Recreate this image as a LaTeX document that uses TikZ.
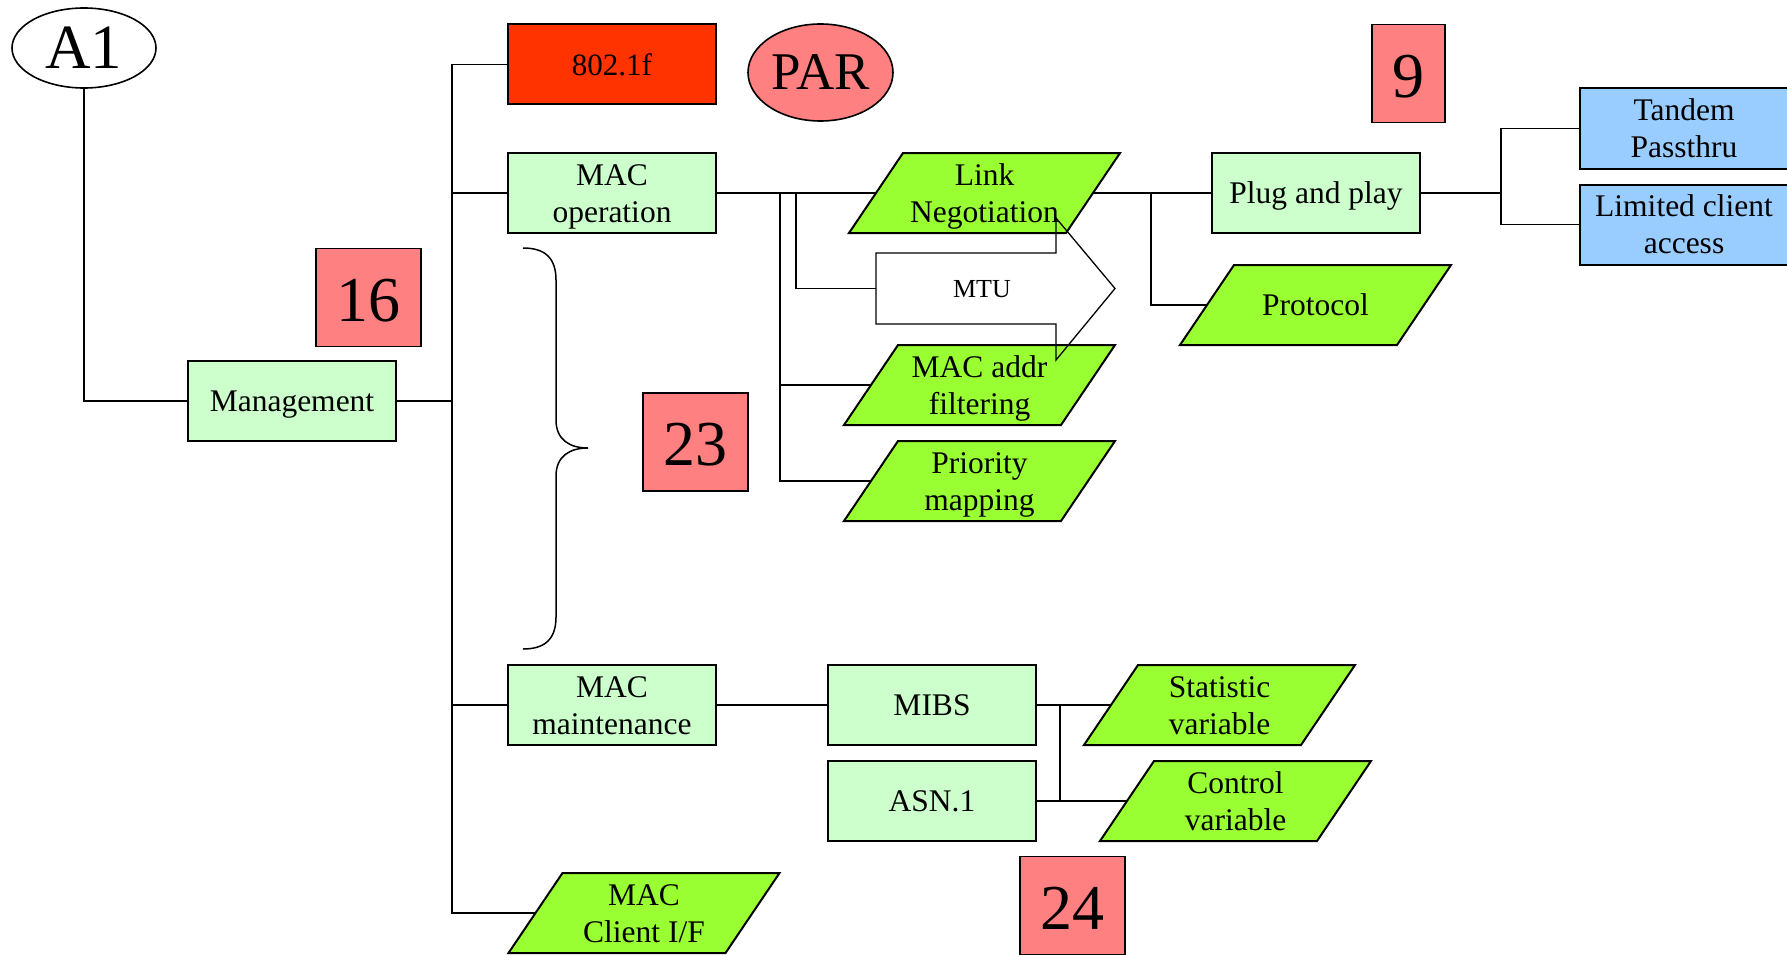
\documentclass[tikz,border=0pt]{standalone}
\usepackage{fontspec}
\setmainfont{Liberation Serif}
\usetikzlibrary{shapes.geometric}
\definecolor{lgreen}{HTML}{CCFFCC}
\definecolor{pgreen}{HTML}{99FF33}
\definecolor{redbox}{HTML}{FF3300}
\definecolor{salmon}{HTML}{FF8080}
\definecolor{lblue}{HTML}{99CCFF}

% full line strut for the 31.5pt labels: font ascent and descent
\newcommand\linestrut{\rule[-6.8pt]{0pt}{34.87pt}}
% same for the smaller 26pt label
\newcommand\smallstrut{\rule[-5.6pt]{0pt}{28.8pt}}
% headroom for the large numbers
\newcommand\numstrut{\rule{0pt}{48.3pt}}
% two centred lines, each on a full-height line box
\newcommand\twolines[2]{\vbox{\baselineskip=37pt\lineskiplimit=0pt
  \halign{\hfil##\hfil\cr\linestrut#1\cr\linestrut#2\cr}}}

% slanted (parallelogram) item: name, centre x, centre y, text
\newcommand\slantbox[4]{%
  \filldraw[slantfill] (#2-81.5,#3-40) -- (#2+135.5,#3-40) -- (#2+81.5,#3+40) -- (#2-135.5,#3+40) -- cycle;
  \node[slanttext] (#1) at (#2,#3) {#4};}

\begin{document}
\begin{tikzpicture}[x=1pt,y=-1pt,
  every node/.style={inner sep=0pt},
  txt/.style={font=\fontsize{31.5}{37}\selectfont,
              execute at end node=\linestrut},
  box/.style={txt, draw, line width=2pt, minimum width=208, minimum height=80},
  greenbox/.style={box, fill=lgreen},
  bluebox/.style={box, fill=lblue},
  numbox/.style={draw, line width=1.5pt, fill=salmon, font=\fontsize{64}{64}\selectfont,
                 minimum height=98, execute at end node=\numstrut},
  slanttext/.style={txt, minimum width=217, minimum height=80},
  slantfill/.style={fill=pgreen, draw, line width=2pt, line join=miter},
  wire/.style={line width=1.6pt},
]
\useasboundingbox (0,0) rectangle (1787,955);

% rectangular items
\node[draw, ellipse, line width=1.6pt, fill=white, minimum width=144, minimum height=80,
      font=\fontsize{63}{63}\selectfont] (a1) at (84,48) {A1};
\node[greenbox] (mgmt) at (292,401) {Management};
\node[box, fill=redbox, font=\fontsize{31}{37}\selectfont] (f8021) at (612,64.5) {802.1f};
\node[draw, ellipse, line width=1.6pt, fill=salmon, minimum width=145, minimum height=97,
      font=\fontsize{53}{53}\selectfont] (par) at (820.5,72.5) {PAR};
\node[greenbox] (macop) at (612,193) {\twolines{MAC}{operation}};
\node[numbox, minimum width=105] (n16) at (368.5,297.5) {16};
\node[numbox, minimum width=105] (n23) at (695.5,442) {23};
\node[numbox, minimum width=73] (n9) at (1408.5,73.5) {9};
\node[numbox, minimum width=105] (n24) at (1072.5,905.5) {24};
\node[greenbox] (plug) at (1316,193) {Plug and play};
\node[bluebox] (tandem) at (1684,128.5) {\twolines{Tandem}{Passthru}};
\node[bluebox] (limited) at (1684,224.5) {\twolines{Limited client}{access}};
\node[greenbox] (macmaint) at (612,705) {\twolines{MAC}{maintenance}};
\node[greenbox] (mibs) at (932,705) {MIBS};
\node[greenbox] (asn) at (932,801) {ASN.1};

% slanted items
\slantbox{link}{984.5}{193}{\twolines{Link}{Negotiation}}
\slantbox{proto}{1315.5}{305}{Protocol}
\slantbox{macaddr}{979.5}{385}{\twolines{MAC addr}{filtering}}
\slantbox{prio}{979.5}{481}{\twolines{Priority}{mapping}}
\slantbox{client}{644}{913}{\twolines{MAC}{Client I/F}}
\slantbox{stat}{1219.5}{705}{\twolines{Statistic}{variable}}
\slantbox{ctrl}{1235.5}{801}{\twolines{Control}{variable}}

% junction points
\coordinate (trunk) at (452,64.5);
\coordinate (fanA) at (780,193);
\coordinate (fanB) at (796,193);
\coordinate (fanC) at (1151,193);
\coordinate (fanD) at (1501,193);
\coordinate (fanE) at (1060,705);
\coordinate (mtuin) at (876,288.5);

% connectors
\draw[wire] (a1.south) |- (mgmt.west);
\draw[wire] (mgmt.east) -- (mgmt.east -| trunk);
\draw[wire] (f8021.west) -- (trunk) -- (trunk |- client.west) -- (client.west);
\draw[wire] (macop.west) -- (macop.west -| trunk);
\draw[wire] (macmaint.west) -- (macmaint.west -| trunk);
\draw[wire] (macop.east) -- (link.west);
\draw[wire] (fanA) |- (macaddr.west);
\draw[wire] (fanA) |- (prio.west);
\draw[wire] (fanB) |- (mtuin);
\draw[wire] (link.east) -- (plug.west);
\draw[wire] (fanC) |- (proto.west);
\draw[wire] (plug.east) -- (fanD);
\draw[wire] (tandem.west) -| (fanD) |- (limited.west);
\draw[wire] (macmaint.east) -- (mibs.west);
\draw[wire] (mibs.east) -- (stat.west);
\draw[wire] (asn.east) -- (ctrl.west);
\draw[wire] (fanE) |- (ctrl.west);

% curly brace
\draw[line width=1.5pt] (523,248) .. controls (545,248) and (556,258) .. (556,280)
  -- (556,420) .. controls (556,440) and (570,448) .. (588,448)
  .. controls (570,448) and (556,456) .. (556,476)
  -- (556,617) .. controls (556,639) and (545,649) .. (523,649);

% MTU block arrow
\draw[line width=1.3pt, line join=miter] (mtuin) |- (1056,253) -- (1056,218) -- (1115,288.5)
  -- (1056,360) -- (1056,324) -| (mtuin);
\node[font=\fontsize{26}{30}\selectfont, execute at end node=\smallstrut] (mtu) at (982,288.5) {MTU};
\end{tikzpicture}
\end{document}
